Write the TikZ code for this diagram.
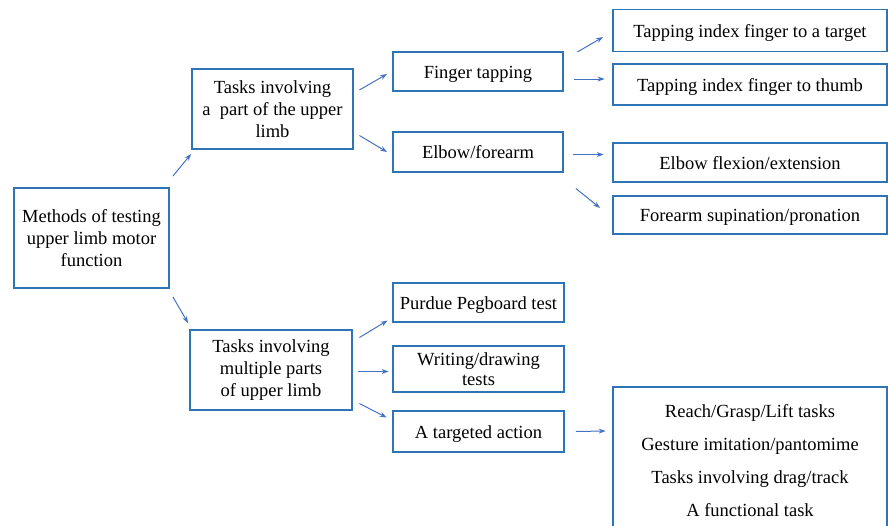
\documentclass[tikz,border=0pt]{standalone}
\usepackage{fontspec}
\setmainfont{Liberation Serif}
\usepackage{xcolor}
\usetikzlibrary{arrows.meta}
\definecolor{boxblue}{HTML}{2E75B6}
\definecolor{arrowblue}{HTML}{4472C4}

\begin{document}
\begin{tikzpicture}[x=1pt, y=-1pt,
    box/.style={draw=boxblue, line width=1.8pt, align=center, inner sep=0pt, font=\fontsize{18.5}{22}\selectfont},
    onebox/.style={box, text height=13pt, text depth=0pt},
    arr/.style={-{Stealth[length=7pt,width=5pt]}, color=arrowblue, line width=1pt}]
    \useasboundingbox (0,0) rectangle (888,525);
    % first level
    \node[box, minimum width=155pt, minimum height=100pt] (root) at (91.5,238) {Methods of testing\\upper limb motor\\function};
    \node[box, minimum width=161pt, minimum height=80pt] (part) at (272.5,109) {Tasks involving\\a\ \ part of the upper\\limb};
    \node[box, minimum width=162pt, minimum height=80pt] (multi) at (271,370) {Tasks involving\\multiple parts\\of upper limb};
    % second level
    \node[onebox, minimum width=170pt, minimum height=39pt] (finger) at (478,71.5) {Finger tapping};
    \node[onebox, minimum width=170pt, minimum height=40pt] (elbow) at (478,152) {Elbow/forearm};
    \node[onebox, minimum width=171pt, minimum height=39pt] (purdue) at (478.5,302.5) {Purdue Pegboard test};
    \node[box, minimum width=171pt, minimum height=46pt, font=\fontsize{18.5}{20.5}\selectfont] (writing) at (478.5,369) {Writing/drawing\\tests};
    \node[onebox, minimum width=171pt, minimum height=41pt] (targeted) at (478.5,431.5) {A targeted action};
    % third level
    \node[onebox, minimum width=274pt, minimum height=42pt] (target) at (750,30.5) {Tapping index finger to a target};
    \node[onebox, minimum width=274pt, minimum height=41pt] (thumb) at (750,84.5) {Tapping index finger to thumb};
    \node[onebox, minimum width=274pt, minimum height=39pt] (flexion) at (750,162.5) {Elbow flexion/extension};
    \node[onebox, minimum width=274pt, minimum height=38pt] (supination) at (750,215) {Forearm supination/pronation};
    \node[box, minimum width=274pt, minimum height=148pt, font=\fontsize{18.5}{33}\selectfont] (actions) at (750,461) {Reach/Grasp/Lift tasks\\Gesture imitation/pantomime\\Tasks involving drag/track\\A functional task};
    % arrows
    \draw[arr] ([xshift=3pt,yshift=11pt]root.north east) -- ([yshift=-4pt]part.south west);
    \draw[arr] ([xshift=3pt,yshift=-8pt]root.south east) -- ([xshift=-1pt,yshift=6pt]multi.north west);
    \draw[arr] ([xshift=5.5pt,yshift=19pt]part.east) -- ([xshift=-5pt,yshift=-2.5pt]finger.west);
    \draw[arr] ([xshift=5.5pt,yshift=-26.5pt]part.east) -- ([xshift=-5pt]elbow.west);
    \draw[arr] ([xshift=13.5pt,yshift=19.5pt]finger.east) -- ([xshift=-9pt,yshift=-6.5pt]target.west);
    \draw[arr] ([xshift=10.5pt,yshift=-7.5pt]finger.east) -- ([xshift=-7.5pt,yshift=5.5pt]thumb.west);
    \draw[arr] ([xshift=9.5pt,yshift=-2.5pt]elbow.east) -- ([xshift=-8.5pt,yshift=8pt]flexion.west);
    \draw[arr] ([xshift=12pt,yshift=-36.5pt]elbow.east) -- ([xshift=-12pt,yshift=7pt]supination.west);
    \draw[arr] ([xshift=6.5pt,yshift=32.5pt]multi.east) -- ([xshift=-4.5pt,yshift=-18pt]purdue.west);
    \draw[arr] ([xshift=5pt,yshift=-1.5pt]multi.east) -- ([xshift=-3.5pt,yshift=-2.5pt]writing.west);
    \draw[arr] ([xshift=6.5pt,yshift=-33.5pt]multi.east) -- ([xshift=-5.5pt,yshift=14pt]targeted.west);
    \draw[arr] ([xshift=11pt]targeted.east) -- ([xshift=-6.5pt,yshift=30pt]actions.west);
\end{tikzpicture}
\end{document}
